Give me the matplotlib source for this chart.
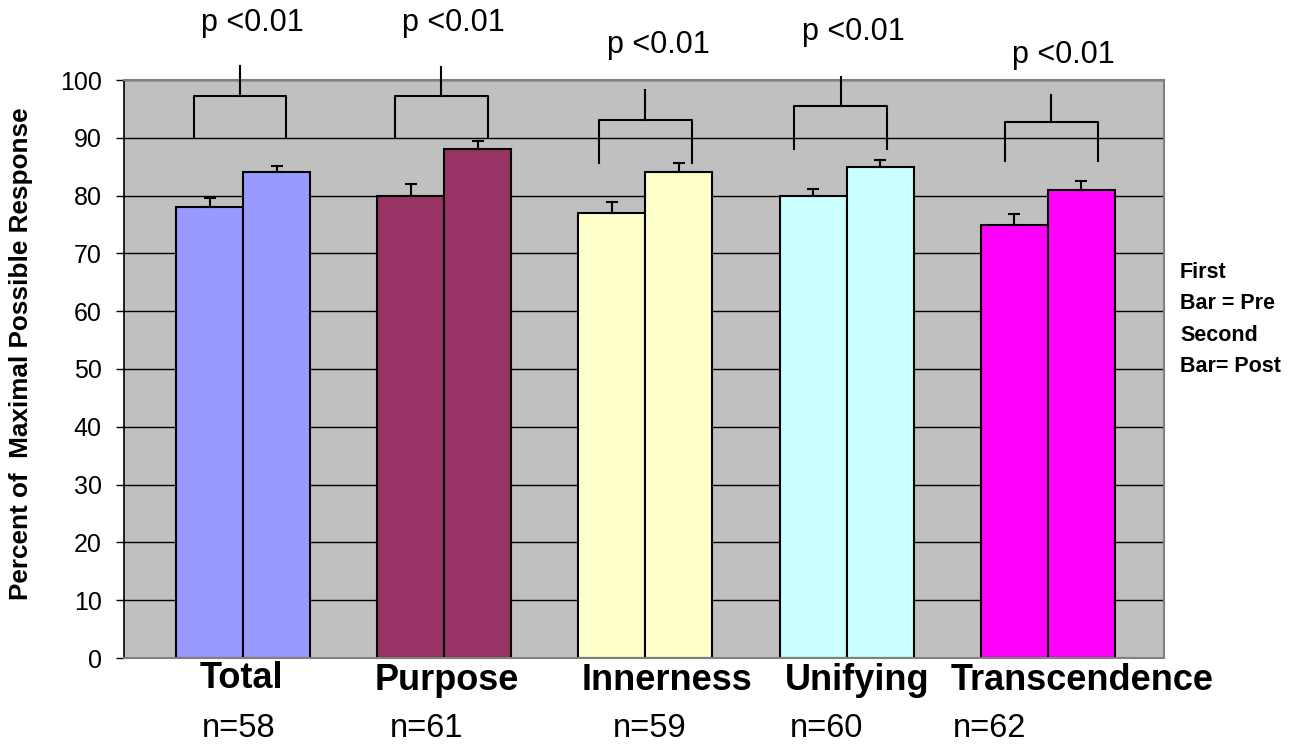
import matplotlib
matplotlib.use("Agg")
import matplotlib.pyplot as plt
import numpy as np

plt.rcParams['font.family'] = ['Liberation Sans', 'DejaVu Sans']

# ---- data ----
categories = ["Total", "Purpose", "Innerness", "Unifying", "Transcendence"]
n_labels = ["n=58", "n=61", "n=59", "n=60", "n=62"]
pre_values = [78, 80, 77, 80, 75]
post_values = [84, 88, 84, 85, 81]
pre_errors = [1.6, 2.0, 1.9, 1.2, 1.8]
post_errors = [1.2, 1.5, 1.6, 1.1, 1.5]
bar_colors = ["#9999FF", "#993366", "#FFFFCC", "#CCFFFF", "#FF00FF"]
p_label = "p <0.01"
bracket_leg_bottom = [90, 90, 85.7, 88.1, 85.9]
bracket_bar = [97.2, 97.2, 93.0, 95.5, 92.7]
bracket_stem_top = [102.4, 102.3, 98.2, 100.6, 97.4]
p_text_y = [108.45, 108.45, 104.6, 106.9, 102.9]
y_ticks = list(range(0, 101, 10))

# ---- layout (positions / offsets) ----
bar_w = 0.333
bracket_shift = [-0.015, -0.015, 0.0, -0.03, 0.017]
bracket_half = 0.231
cat_label_shift = [-0.01, 0.015, 0.109, 0.055, 0.169]
cat_label_y = [-5.15, -5.6, -5.6, -5.6, -5.6]
n_label_shift = [-0.02, -0.09, 0.02, -0.10, -0.29]

fig = plt.figure(figsize=(12.97, 7.44), dpi=100)
ax = fig.add_axes([124/1297, 86/744, 1040/1297, 578/744])
ax.set_facecolor('#C0C0C0')

x = np.arange(len(categories))
ax.set_xlim(-0.5915, 4.5775)
ax.set_ylim(0, 100)
ax.set_yticks(y_ticks)
ax.set_xticks([])
ax.yaxis.grid(True, color='black', lw=1.0)
ax.set_axisbelow(True)

for s in ['top', 'right', 'bottom']:
    ax.spines[s].set_color('#808080')
    ax.spines[s].set_linewidth(1.5)
ax.spines['left'].set_color('black')
ax.spines['left'].set_linewidth(1.2)
ax.tick_params(axis='y', length=6, width=1, labelsize=18, pad=10, direction='out')

ax.bar(x - bar_w/2, pre_values, bar_w, color=bar_colors, edgecolor='black', linewidth=1.5, zorder=2)
ax.bar(x + bar_w/2, post_values, bar_w, color=bar_colors, edgecolor='black', linewidth=1.5, zorder=2)
ax.errorbar(x - bar_w/2, pre_values, yerr=[np.zeros(5), pre_errors], fmt='none',
            ecolor='black', elinewidth=1.5, capsize=4.3, capthick=1.5, zorder=3)
ax.errorbar(x + bar_w/2, post_values, yerr=[np.zeros(5), post_errors], fmt='none',
            ecolor='black', elinewidth=1.5, capsize=4.3, capthick=1.5, zorder=3)

for i in range(len(categories)):
    cx = x[i] + bracket_shift[i]
    ax.plot([cx - bracket_half, cx - bracket_half, cx + bracket_half, cx + bracket_half],
            [bracket_leg_bottom[i], bracket_bar[i], bracket_bar[i], bracket_leg_bottom[i]],
            color='black', lw=1.5, clip_on=False, zorder=4)
    ax.plot([cx, cx], [bracket_bar[i], bracket_stem_top[i]], color='black', lw=1.5,
            clip_on=False, zorder=4)
    ax.text(cx + 0.062, p_text_y[i], p_label, ha='center', va='baseline', fontsize=22,
            clip_on=False)
    ax.text(x[i] + cat_label_shift[i], cat_label_y[i], categories[i], ha='center',
            va='baseline', fontsize=26, fontweight='bold', clip_on=False)
    ax.text(x[i] + n_label_shift[i], -13.7, n_labels[i], ha='center', va='baseline',
            fontsize=23.5, clip_on=False)

ax.set_ylabel("Percent of  Maximal Possible Response", fontsize=18.8, fontweight='bold')
ax.yaxis.set_label_coords(-0.0875, 0.526)

fig.text(1180/1297, 1 - 262/744, "First\nBar = Pre\nSecond\nBar= Post", fontsize=15.5,
         fontweight='bold', va='top', ha='left', linespacing=1.65)

fig.savefig("out.png", dpi=100)
